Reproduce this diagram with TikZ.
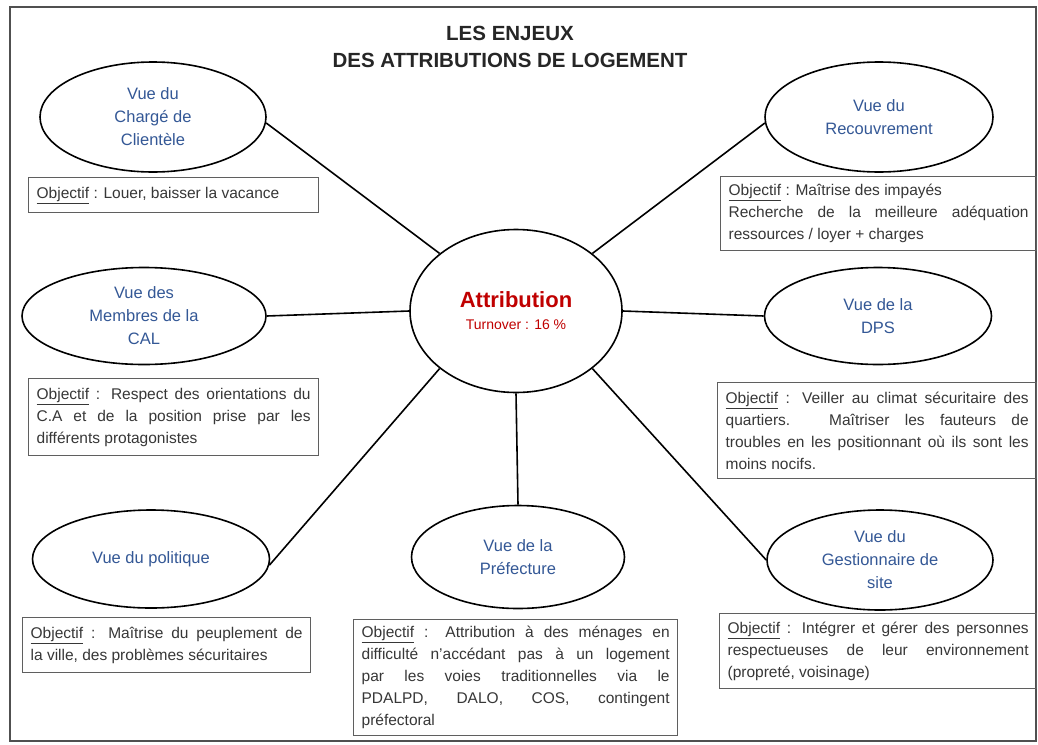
\documentclass[tikz,border=0pt]{standalone}
\usepackage{fontspec}
\setmainfont{Liberation Sans}
\usetikzlibrary{shapes.geometric}
\definecolor{vueblue}{RGB}{52,88,150}
\definecolor{attred}{RGB}{192,0,0}
\definecolor{boxtext}{RGB}{55,55,55}
\definecolor{boxline}{RGB}{95,95,95}
\definecolor{framegray}{RGB}{80,80,80}
\newcommand{\objlabel}{\underline{Objectif}~: }
\begin{document}
\begin{tikzpicture}[x=1pt,y=-1pt,
  vue/.style={ellipse,draw=black,line width=1.6pt,fill=white,inner sep=0pt,align=center,text=vueblue,font=\fontsize{16.5}{23}\selectfont},
  objbox/.style={rectangle,draw=boxline,line width=1.3pt,anchor=north west,inner xsep=8pt,inner ysep=0pt,align=justify,text=boxtext,font=\fontsize{15.5}{22}\selectfont},
  link/.style={line width=1.6pt,black}]
\useasboundingbox (0,0) rectangle (1038,744);
\fill[white] (0,0) rectangle (1038,744);
\draw[framegray,line width=1.3pt] (10,7) rectangle (1036,741);

\node[font=\bfseries\fontsize{20.5}{27}\selectfont,align=center,text=black!85] (title) at (510,47) {LES ENJEUX\\DES ATTRIBUTIONS DE LOGEMENT};

% ellipses
\node[vue,minimum width=212pt,minimum height=163pt,text=attred] (center) at (516,311)
  {{\fontsize{22}{26}\selectfont\bfseries Attribution}\\[-1pt]{\fontsize{14}{16}\selectfont Turnover : 16 \%}};
\node[vue,minimum width=226pt,minimum height=110pt] (charge) at (153,117) {Vue du\\Chargé de\\Clientèle};
\node[vue,minimum width=228pt,minimum height=110pt] (recouv) at (879,117) {Vue du\\Recouvrement};
\node[vue,minimum width=244pt,minimum height=97pt] (cal) at (144,316) {Vue des\\Membres de la\\CAL};
\node[vue,minimum width=227pt,minimum height=97pt] (dps) at (878,316) {Vue de la\\DPS};
\node[vue,minimum width=237pt,minimum height=98pt] (polit) at (151,559) {Vue du politique};
\node[vue,minimum width=213pt,minimum height=103pt] (pref) at (518,557) {Vue de la\\Préfecture};
\node[vue,minimum width=226pt,minimum height=100pt] (gest) at (880,560) {Vue du\\Gestionnaire de\\site};

% objective boxes
\node[objbox,minimum width=290pt,minimum height=35pt,text width=274pt] (bcharge) at (28,177)
  {\objlabel Louer, baisser la vacance};
\node[objbox,minimum width=316pt,minimum height=74pt,text width=300pt] (brecouv) at (720,176)
  {\objlabel Maîtrise des impayés\newline Recherche de la meilleure adéquation\linebreak ressources / loyer + charges};
\node[objbox,minimum width=290pt,minimum height=77pt,text width=274pt] (bcal) at (28,378)
  {\objlabel Respect des orientations du\linebreak C.A et de la position prise par les\linebreak différents protagonistes};
\node[objbox,minimum width=319pt,minimum height=96pt,text width=303pt] (bdps) at (717,382)
  {\objlabel Veiller au climat sécuritaire des\linebreak quartiers. Maîtriser les fauteurs de\linebreak troubles en les positionnant où ils sont les\linebreak moins nocifs.};
\node[objbox,minimum width=288pt,minimum height=55pt,text width=272pt] (bpolit) at (22,617)
  {\objlabel Maîtrise du peuplement de\linebreak la ville, des problèmes sécuritaires};
\node[objbox,minimum width=324pt,minimum height=116pt,text width=308pt] (bpref) at (353,619)
  {\objlabel Attribution à des ménages en\linebreak difficulté n'accédant pas à un logement\linebreak par les voies traditionnelles via le\linebreak PDALPD, DALO, COS, contingent\linebreak préfectoral};
\node[objbox,minimum width=317pt,minimum height=75pt,text width=301pt] (bgest) at (719,613)
  {\objlabel Intégrer et gérer des personnes\linebreak respectueuses de leur environnement\linebreak (propreté, voisinage)};

% connectors
\draw[link] (center.143) -- (charge.-3);
\draw[link] (center.37) -- (recouv.183);
\draw[link] (center.west) -- (cal.east);
\draw[link] (center.east) -- (dps.west);
\draw[link] (center.217) -- (polit.-3);
\draw[link] (center.south) -- (pref.north);
\draw[link] (center.323) -- (gest.180);
\end{tikzpicture}
\end{document}
